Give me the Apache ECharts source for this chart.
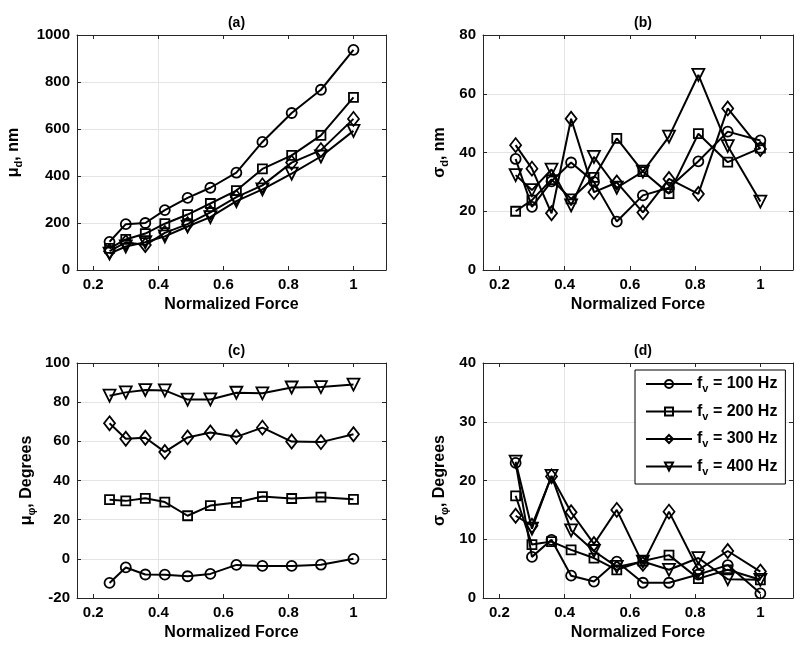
<!DOCTYPE html>
<html><head><meta charset="utf-8">
<script src="https://cdn.jsdelivr.net/npm/echarts@6/dist/echarts.min.js"></script>
<style>html,body{margin:0;padding:0;background:#fff}#c{width:800px;height:646px}</style>
</head><body><div id="c"></div>
<script>
// ---------- data ----------
const forceX = [0.25, 0.30, 0.36, 0.42, 0.49, 0.56, 0.64, 0.72, 0.81, 0.90, 1.0];
const xTickLabels = [0.2, 0.4, 0.6, 0.8, 1];
const seriesNames = ['f_v = 100 Hz', 'f_v = 200 Hz', 'f_v = 300 Hz', 'f_v = 400 Hz'];
const panelTitles = ['(a)', '(b)', '(c)', '(d)'];

// (a) mean displacement, nm
const muD_100 = [120, 195, 200, 255, 307, 350, 414, 545, 668, 767, 937];
const muD_200 = [92, 130, 155, 197, 236, 283, 338, 430, 488, 573, 735];
const muD_300 = [80, 118, 106, 158, 195, 245, 310, 360, 457, 510, 643];
const muD_400 = [70, 100, 118, 143, 185, 225, 293, 343, 410, 483, 592];

// (b) std displacement, nm
const sigD_100 = [37.8, 21.5, 30.2, 36.6, 30.0, 16.5, 25.4, 28.0, 37.0, 47.1, 44.1];
const sigD_200 = [20.0, 23.8, 30.8, 24.2, 31.5, 44.8, 33.5, 26.0, 46.4, 36.7, 41.5];
const sigD_300 = [42.5, 34.5, 19.3, 51.5, 26.5, 29.8, 19.6, 31.0, 25.9, 55.0, 41.2];
const sigD_400 = [32.3, 27.2, 34.2, 22.0, 38.5, 28.0, 33.5, 45.4, 66.4, 42.2, 23.3];

// (c) mean phase, degrees
const muP_100 = [-12.3, -4.4, -8.0, -8.1, -8.9, -7.7, -3.1, -3.6, -3.6, -3.0, 0.0];
const muP_200 = [30.2, 29.6, 30.9, 29.0, 22.0, 27.2, 28.8, 31.8, 30.8, 31.5, 30.4];
const muP_300 = [69.2, 61.3, 61.8, 54.6, 62.0, 64.5, 62.3, 67.0, 59.9, 59.6, 63.6];
const muP_400 = [83.3, 85.0, 86.2, 86.0, 81.3, 81.4, 84.8, 84.5, 87.5, 87.7, 89.0];

// (d) std phase, degrees
const sigP_100 = [23.0, 7.0, 9.9, 3.8, 2.8, 6.2, 2.6, 2.6, 4.0, 5.6, 0.8];
const sigP_200 = [17.4, 9.1, 9.6, 8.2, 6.8, 4.8, 6.3, 7.3, 3.3, 4.8, 3.1];
const sigP_300 = [14.0, 12.3, 20.7, 14.6, 9.2, 15.0, 5.8, 14.7, 4.8, 8.0, 4.5];
const sigP_400 = [23.2, 11.8, 20.8, 11.5, 8.0, 5.3, 6.2, 4.8, 6.8, 3.2, 3.1];

const yTicksA = [0, 1000, 200];
const yTicksB = [0, 80, 20];
const yTicksC = [-20, 100, 20];
const yTicksD = [0, 40, 10];

// ---------- layout / style ----------
const FONT = 'Liberation Sans, Arial, sans-serif';
const AX = '#262626';
const GRIDC = '#e4e4e4';
const panels = [
  { vals: [muD_100, muD_200, muD_300, muD_400], y: yTicksA, name: '{n|μ}{s|d}{n|, nm}', gap: 53,
    grid: { left: 77, top: 35, width: 309, height: 235 } },
  { vals: [sigD_100, sigD_200, sigD_300, sigD_400], y: yTicksB, name: '{n|σ}{s|d}{n|, nm}', gap: 33,
    grid: { left: 483, top: 35, width: 310, height: 235 } },
  { vals: [muP_100, muP_200, muP_300, muP_400], y: yTicksC, name: '{n|μ}{s|φ}{n|, Degrees}', gap: 40,
    grid: { left: 77, top: 363, width: 309, height: 235 } },
  { vals: [sigP_100, sigP_200, sigP_300, sigP_400], y: yTicksD, name: '{n|σ}{s|φ}{n|, Degrees}', gap: 33,
    grid: { left: 483, top: 363, width: 310, height: 235 } }
];
const symbols = ['circle', 'rect', 'diamond', 'triangle'];
const symSizes = [10, 9, [11, 14], 12];
const symRot = [0, 0, 0, 180];

const rich = {
  n: { fontSize: 16, fontWeight: 'bold', fontFamily: FONT, color: '#000' },
  s: { fontSize: 11, fontWeight: 'bold', fontFamily: FONT, color: '#000', padding: [10, 0, 0, 0] }
};

const grids = [], xAxes = [], yAxes = [], series = [], titles = [];
panels.forEach((p, pi) => {
  grids.push(Object.assign({ containLabel: false }, p.grid));
  titles.push({
    text: panelTitles[pi], left: p.grid.left + p.grid.width / 2, top: p.grid.top - 24,
    textAlign: 'center',
    textStyle: { fontSize: 14, fontWeight: 'bold', fontFamily: FONT, color: '#000' }
  });
  // bottom x axis
  xAxes.push({
    type: 'value', gridIndex: pi, position: 'bottom', min: 0.15, max: 1.1, interval: 0.05,
    name: 'Normalized Force', nameLocation: 'middle', nameGap: 27,
    nameTextStyle: { fontSize: 16, fontWeight: 'bold', fontFamily: FONT, color: '#000' },
    axisLine: { show: true, onZero: false, lineStyle: { color: AX, width: 1 } },
    axisTick: { show: true, inside: true, length: 4, customValues: xTickLabels, lineStyle: { color: AX } },
    axisLabel: { show: true, customValues: xTickLabels, margin: 7, fontSize: 15, fontWeight: 'bold', fontFamily: FONT, color: '#000',
      formatter: v => String(+v.toFixed(1)) },
    splitLine: { show: true, lineStyle: { color: ['rgba(0,0,0,0)', GRIDC, 'rgba(0,0,0,0)', 'rgba(0,0,0,0)'], width: 1 } }
  });
  // top x axis (box)
  xAxes.push({
    type: 'value', gridIndex: pi, position: 'top', min: 0.15, max: 1.1, interval: 0.05,
    axisLine: { show: true, onZero: false, lineStyle: { color: AX, width: 1 } },
    axisTick: { show: true, inside: true, length: 4, customValues: xTickLabels, lineStyle: { color: AX } },
    axisLabel: { show: false }, splitLine: { show: false }
  });
  // left y axis
  yAxes.push({
    type: 'value', gridIndex: pi, position: 'left', min: p.y[0], max: p.y[1], interval: p.y[2],
    name: p.name, nameLocation: 'middle', nameGap: p.gap, nameRotate: 90,
    nameTextStyle: { rich: rich },
    axisLine: { show: true, onZero: false, lineStyle: { color: AX, width: 1 } },
    axisTick: { show: true, inside: true, length: 4, lineStyle: { color: AX } },
    axisLabel: { show: true, margin: 7, fontSize: 15, fontWeight: 'bold', fontFamily: FONT, color: '#000',
      formatter: v => String(v) },
    splitLine: { show: true, lineStyle: { color: GRIDC, width: 1 } }
  });
  // right y axis (box)
  yAxes.push({
    type: 'value', gridIndex: pi, position: 'right', min: p.y[0], max: p.y[1], interval: p.y[2],
    axisLine: { show: true, onZero: false, lineStyle: { color: AX, width: 1 } },
    axisTick: { show: true, inside: true, length: 4, lineStyle: { color: AX } },
    axisLabel: { show: false }, splitLine: { show: false }
  });
  p.vals.forEach((vals, k) => {
    series.push({
      type: 'line', name: seriesNames[k], xAxisIndex: pi * 2, yAxisIndex: pi * 2,
      data: forceX.map((x, i) => [x, vals[i]]),
      symbol: symbols[k], symbolSize: symSizes[k], symbolRotate: symRot[k], showSymbol: true,
      lineStyle: { color: '#000', width: 2 },
      itemStyle: { color: 'rgba(255,255,255,0)', borderColor: '#000', borderWidth: 1.8 },
      emphasis: { disabled: true }, silent: true, z: 3
    });
  });
});

const chart = echarts.init(document.getElementById('c'), null, { renderer: 'canvas' });
chart.setOption({
  animation: false,
  backgroundColor: '#fff',
  title: titles,
  grid: grids,
  xAxis: xAxes,
  yAxis: yAxes,
  legend: {
    show: true, orient: 'vertical', left: 635, top: 370,
    data: seriesNames, selectedMode: false,
    itemWidth: 46, itemHeight: 10, itemGap: 9,
    padding: [6, 8, 7, 10],
    borderColor: '#000', borderWidth: 1, backgroundColor: '#fff',
    formatter: name => '{n|f}{s|v}{n|' + name.slice(3) + '}',
    textStyle: { padding: [0, 0, 0, 0], rich: {
      n: { fontSize: 16, fontWeight: 'bold', fontFamily: FONT, color: '#000' },
      s: { fontSize: 11, fontWeight: 'bold', fontFamily: FONT, color: '#000', padding: [10, 0, 0, 0] }
    } }
  },
  series: series
});
</script>
</body></html>
